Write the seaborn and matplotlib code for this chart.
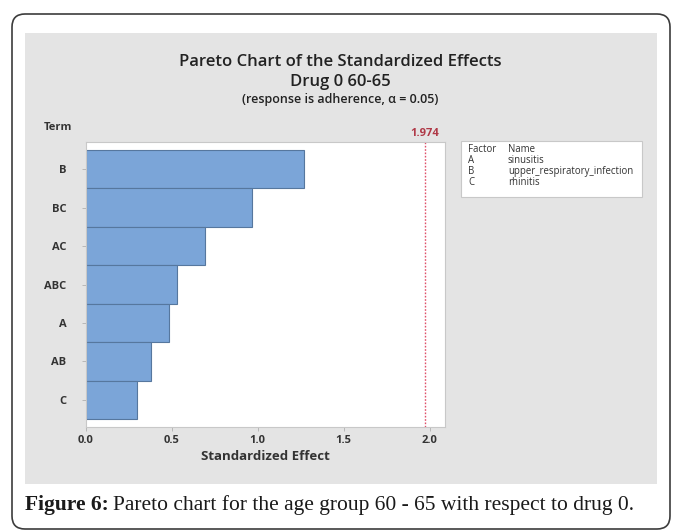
import numpy as np
import pandas as pd
import matplotlib
matplotlib.use("Agg")
import matplotlib.pyplot as plt
from matplotlib.patches import FancyBboxPatch, Rectangle
import seaborn as sns

# data
terms = ["B", "BC", "AC", "ABC", "A", "AB", "C"]
effects = [1.272, 0.965, 0.694, 0.530, 0.483, 0.380, 0.296]
critical = 1.974
factors = ["A", "B", "C"]
factor_names = ["sinusitis", "upper_respiratory_infection", "rhinitis"]
xticks = [0.0, 0.5, 1.0, 1.5, 2.0]

df = pd.DataFrame({"Term": terms, "Effect": effects})

sns.set_style("white")
plt.rcParams["font.family"] = ["Open Sans", "DejaVu Sans"]

W, H = 673, 532
fig = plt.figure(figsize=(W / 100, H / 100), dpi=100)
fig.patch.set_facecolor("white")

# outer rounded frame and gray chart panel (in inches)
frame = FancyBboxPatch((0.12, 0.03), 6.58, 5.15,
                       boxstyle="round,pad=0,rounding_size=0.13",
                       transform=fig.dpi_scale_trans, facecolor="white",
                       edgecolor="#3c3c3c", linewidth=1.2, zorder=0)
fig.patches.append(frame)
panel = Rectangle((0.25, 0.48), 6.32, 4.51, transform=fig.dpi_scale_trans,
                  facecolor="#e4e4e4", edgecolor="none", zorder=1)
fig.patches.append(panel)

ax = fig.add_axes([86 / W, 1 - 427 / H, 359 / W, 285 / H])
ax.set_zorder(2)
sns.barplot(data=df, x="Effect", y="Term", orient="h", color="#7BA5D8",
            saturation=1, width=1.0, edgecolor="#56779e", linewidth=0.8, ax=ax)

ax.axvline(critical, color="#e0506a", linestyle=(0, (1.2, 1.2)), linewidth=1.0)
ax.text(critical, 1.01, f"{critical:.3f}", transform=ax.get_xaxis_transform(),
        ha="center", va="bottom", color="#b03a48", fontsize=8, fontweight="bold")

ax.set_xlim(0, 2.09)
ax.set_ylim(6.71, -0.71)
ax.set_xticks(xticks)
ax.set_xticklabels([f"{t:.1f}" for t in xticks])
ax.set_xlabel("Standardized Effect", fontsize=9.5, fontweight="bold",
              color="#333333", labelpad=3)
ax.set_ylabel("")
ax.tick_params(axis="both", which="major", length=3, width=0.6, color="#b0b0b0",
               labelsize=8, labelcolor="#333333", bottom=True, left=True)
ax.tick_params(axis="y", pad=11)
ax.tick_params(axis="x", pad=3)
for lab in ax.get_xticklabels() + ax.get_yticklabels():
    lab.set_fontweight("bold")
for sp in ax.spines.values():
    sp.set_color("#c8c8c8")
    sp.set_linewidth(0.8)

fig.text(58 / W, 1 - 128 / H, "Term", ha="center", va="center", fontsize=8,
         fontweight="bold", color="#333333")

# titles
fig.text(340 / W, 1 - 62 / H, "Pareto Chart of the Standardized Effects",
         ha="center", va="center", fontsize=12, fontweight="semibold", color="#222222")
fig.text(340 / W, 1 - 82 / H, "Drug 0 60-65", ha="center", va="center",
         fontsize=12, fontweight="semibold", color="#222222")
fig.text(340 / W, 1 - 100 / H, "(response is adherence, \u03b1 = 0.05)",
         ha="center", va="center", fontsize=9, fontweight="semibold", color="#222222")

# factor table box
box = Rectangle((461 / W, 1 - 197 / H), 181 / W, 56 / H, transform=fig.transFigure,
                facecolor="white", edgecolor="#c8c8c8", linewidth=0.8, zorder=3)
fig.patches.append(box)
rows = [("Factor", "Name")] + list(zip(factors, factor_names))
for i, (f, n) in enumerate(rows):
    y = 1 - (149 + i * 11.3) / H
    fig.text(468 / W, y, f, ha="left", va="center", fontsize=6.9, color="#333333", zorder=4)
    fig.text(508 / W, y, n, ha="left", va="center", fontsize=6.9, color="#333333", zorder=4)

# caption
cap_font = ["Liberation Serif", "DejaVu Serif"]
t1 = fig.text(25 / W, 1 - 505 / H, "Figure 6:", ha="left", va="center",
              fontsize=15.5, fontweight="bold", family=cap_font, color="#1a1a1a")
fig.canvas.draw()
bb = t1.get_window_extent()
fig.text((bb.x1 + 4) / W, 1 - 505 / H,
         "Pareto chart for the age group 60 - 65 with respect to drug 0.",
         ha="left", va="center", fontsize=15.5, family=cap_font, color="#1a1a1a")

fig.savefig("out.png", dpi=100)
